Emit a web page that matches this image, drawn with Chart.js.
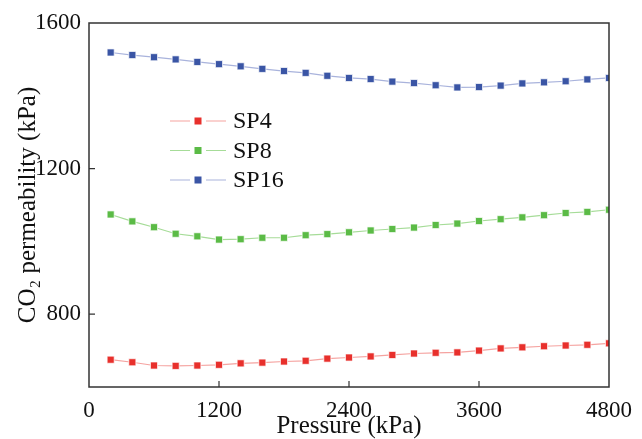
<!DOCTYPE html>
<html>
<head>
<meta charset="utf-8">
<script src="https://cdn.jsdelivr.net/npm/chart.js@4.4.0/dist/chart.umd.min.js"></script>
<style>
  html, body { margin: 0; padding: 0; background: #fff; }
  #wrap { width: 642px; height: 439px; }
</style>
</head>
<body>
<div id="wrap"><canvas id="chart" width="642" height="439"></canvas></div>
<script>
// pressure steps (kPa)
const pressure = [200, 400, 600, 800, 1000, 1200, 1400, 1600, 1800, 2000, 2200, 2400,
                  2600, 2800, 3000, 3200, 3400, 3600, 3800, 4000, 4200, 4400, 4600, 4800]

const sp4 = [675, 668, 659, 658, 659, 661, 665, 667, 670, 672, 678, 681,
             684, 688, 692, 694, 695, 700, 706, 709, 712, 714, 716, 720]
const sp8 = [1074, 1055, 1039, 1021, 1014, 1005, 1006, 1010, 1010, 1017, 1020, 1025,
             1030, 1034, 1038, 1045, 1049, 1056, 1061, 1066, 1072, 1078, 1081, 1087]
const sp16 = [1519, 1512, 1506, 1500, 1493, 1487, 1481, 1474, 1468, 1463, 1455, 1449,
              1446, 1439, 1435, 1429, 1423, 1424, 1428, 1434, 1437, 1440, 1445, 1449]

const yTicks = [800, 1200, 1600]
const xTicks = [0, 1200, 2400, 3600, 4800]

const FONT = "'Liberation Serif', 'Times New Roman', serif"
const AXIS = '#333'

const series = [
    { label: 'SP4', data: sp4, mark: '#e8302c', line: '#f5a3a0' },
    { label: 'SP8', data: sp8, mark: '#5bbb46', line: '#a6dc98' },
    { label: 'SP16', data: sp16, mark: '#3a55a5', line: '#a9b3dc' },
]

// box around plot area + inward ticks
const frame = {
    id: 'frame',
    afterDatasetsDraw(chart) {
        const { ctx, chartArea: a, scales } = chart
        ctx.save()
        ctx.strokeStyle = AXIS
        ctx.lineWidth = 1.5
        ctx.strokeRect(a.left, a.top, a.right - a.left, a.bottom - a.top)
        ctx.lineWidth = 1.2
        ctx.beginPath()
        xTicks.slice(1, -1).forEach(v => {
            const x = scales.x.getPixelForValue(v)
            ctx.moveTo(x, a.bottom)
            ctx.lineTo(x, a.bottom - 6)
        })
        yTicks.slice(0, -1).forEach(v => {
            const y = scales.y.getPixelForValue(v)
            ctx.moveTo(a.left, y)
            ctx.lineTo(a.left + 6, y)
        })
        ctx.stroke()
        ctx.restore()
    }
}

// line - marker - line legend inside the plot
const legendBox = {
    id: 'legendBox',
    afterDraw(chart) {
        const { ctx, chartArea: a } = chart
        ctx.save()
        ctx.font = '24px ' + FONT
        ctx.textBaseline = 'middle'
        series.forEach((s, i) => {
            const cx = a.left + 109
            const cy = a.top + 98 + i * 29.5
            ctx.strokeStyle = s.line
            ctx.lineWidth = 1.2
            ctx.beginPath()
            ctx.moveTo(cx - 28, cy); ctx.lineTo(cx - 8, cy)
            ctx.moveTo(cx + 8, cy); ctx.lineTo(cx + 28, cy)
            ctx.stroke()
            ctx.fillStyle = s.mark
            ctx.fillRect(cx - 3.5, cy - 3.5, 7, 7)
            ctx.fillStyle = '#111'
            ctx.fillText(s.label, cx + 35, cy + 1)
        })
        ctx.restore()
    }
}

new Chart(document.getElementById('chart'), {
    type: 'line',
    data: {
        labels: pressure,
        datasets: series.map(s => ({
            label: s.label,
            data: s.data.map((v, i) => ({ x: pressure[i], y: v })),
            borderColor: s.line,
            borderWidth: 1.2,
            pointStyle: 'rect',
            pointRadius: 5,
            pointBackgroundColor: s.mark,
            pointBorderColor: 'rgba(255,255,255,0.7)',
            pointBorderWidth: 1,
            tension: 0,
        }))
    },
    options: {
        responsive: false,
        animation: false,
        layout: { padding: { top: 23, right: 28, left: 0, bottom: 0 } },
        plugins: { legend: { display: false }, tooltip: { enabled: false } },
        scales: {
            x: {
                type: 'linear',
                min: 0,
                max: 4800,
                afterBuildTicks: scale => { scale.ticks = xTicks.map(v => ({ value: v })) },
                afterFit: scale => { scale.height = 52 },
                grid: { display: false, drawTicks: false },
                border: { display: false },
                ticks: {
                    color: '#111', padding: 10,
                    font: { family: FONT, size: 23 },
                    callback: v => String(v)
                },
                title: {
                    display: true,
                    text: 'Pressure (kPa)',
                    color: '#111',
                    padding: { top: 0, bottom: -2 },
                    font: { family: FONT, size: 25 }
                }
            },
            y: {
                min: 600,
                max: 1600,
                afterBuildTicks: scale => { scale.ticks = yTicks.map(v => ({ value: v })) },
                afterFit: scale => { scale.width = 89 },
                grid: { display: false, drawTicks: false },
                border: { display: false },
                ticks: {
                    color: '#111', padding: 8,
                    font: { family: FONT, size: 23 },
                    callback: v => String(v)
                },
                title: {
                    display: true,
                    text: 'CO₂ permeability (kPa)',
                    color: '#111',
                    padding: { top: 13, bottom: 0 },
                    font: { family: FONT, size: 25 }
                }
            }
        }
    },
    plugins: [frame, legendBox]
})
</script>
</body>
</html>
